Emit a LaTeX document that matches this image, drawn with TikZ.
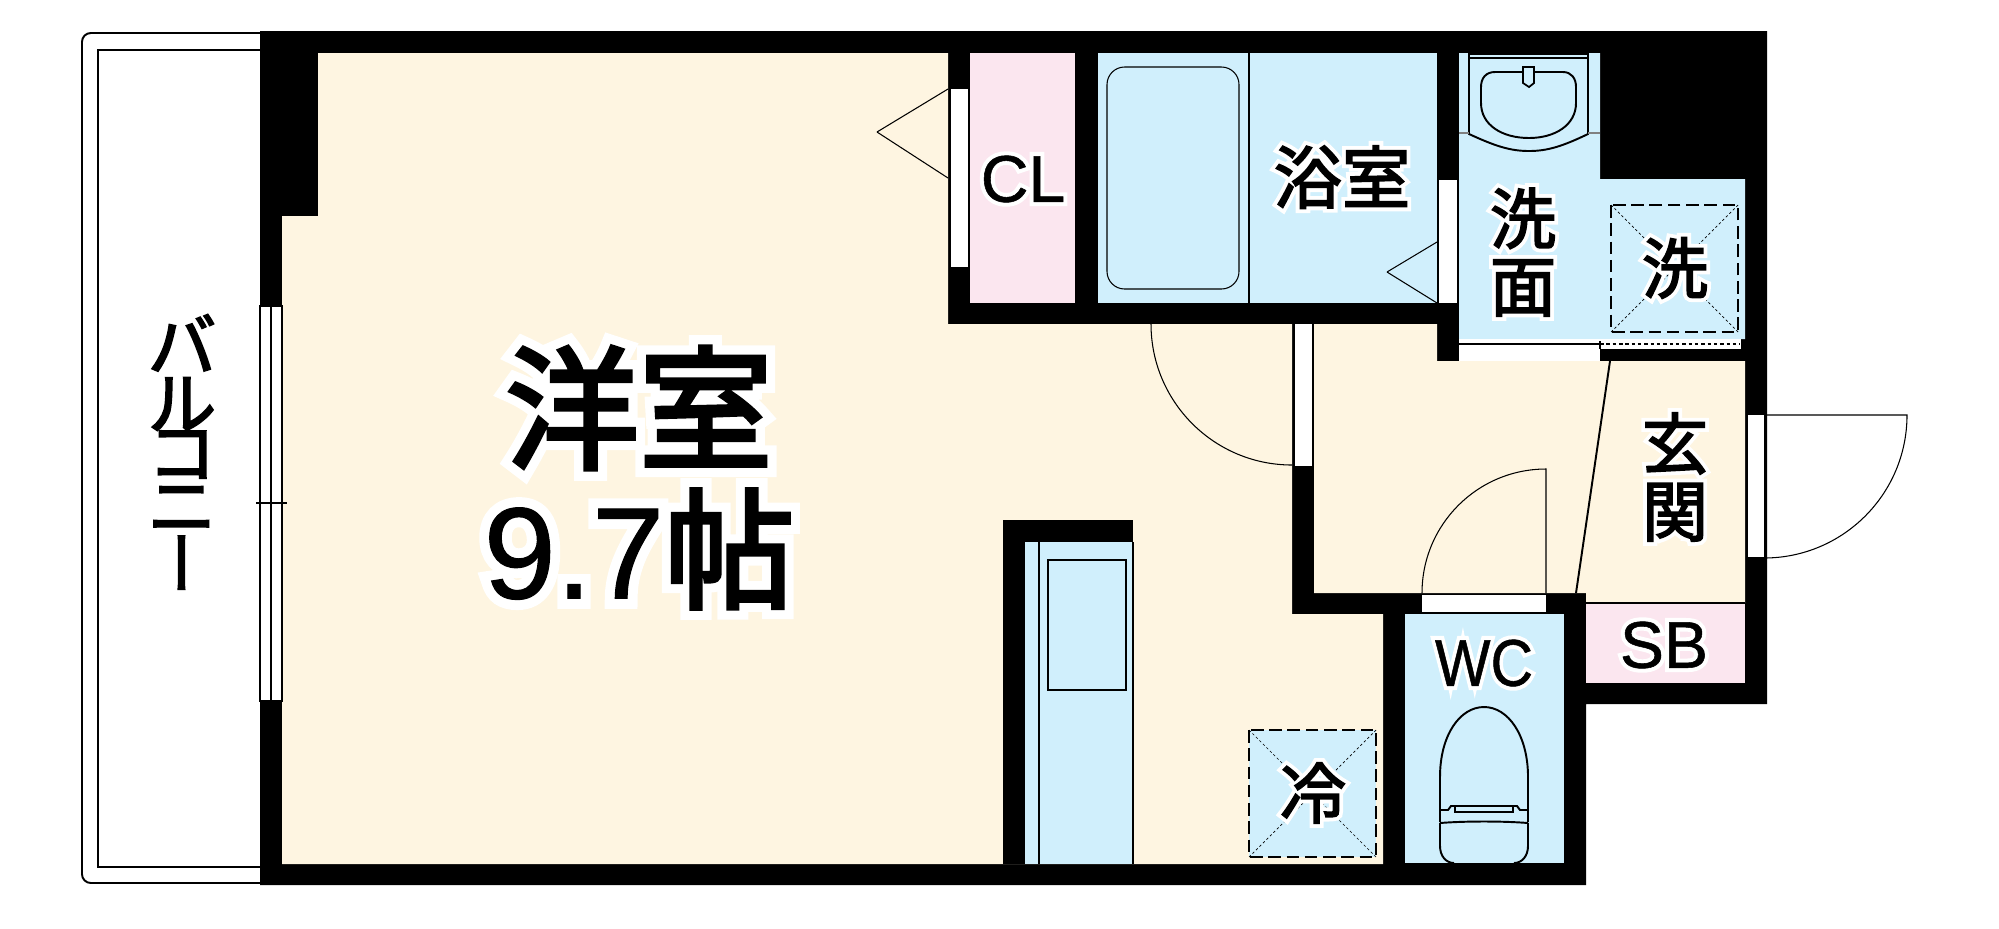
\documentclass[tikz,border=0pt]{standalone}
\usepackage{fontspec}
\usepackage{graphicx}
\setmainfont[FakeBold=0.8]{Liberation Sans}
\newfontfamily\jpfont[FakeBold=2.6]{Noto Sans CJK JP}
\newfontfamily\jpvert[RawFeature=+vert,FakeBold=2]{Noto Sans CJK JP}
\newfontfamily\jphalo[FakeBold=14]{Noto Sans CJK JP}
\newfontfamily\lathalo[FakeBold=13]{Liberation Sans}
\newfontfamily\jpbig[FakeBold=3.2]{Noto Sans CJK JP}
\newfontfamily\jpbighalo[FakeBold=17]{Noto Sans CJK JP}
\newfontfamily\latbighalo[FakeBold=16]{Liberation Sans}
\newcommand{\halo}[1]{\makebox[0pt]{\color{white}\let\jpfont\jphalo\lathalo #1}\makebox[0pt]{#1}}
\newcommand{\bighalo}[1]{\makebox[0pt]{\color{white}\let\jpfont\jpbighalo\latbighalo #1}\makebox[0pt]{\let\jpfont\jpbig #1}}
\newcommand{\tightlines}{\lineskiplimit=-30pt\relax}
\definecolor{floorcream}{HTML}{FEF5E1}
\definecolor{wetblue}{HTML}{D0EFFC}
\definecolor{closetpink}{HTML}{FBE6EF}
\tikzset{
  thinline/.style={line width=0.3pt,black},
  midline/.style={line width=0.55pt,black},
  fixture/.style={line width=0.5pt,black},
  pan/.style={line width=0.45pt,dash pattern=on 3.6pt off 1.6pt},
  panx/.style={line width=0.2pt,dash pattern=on 0.7pt off 0.7pt},
  opening/.style={fill=white},
  smalltext/.style={inner sep=0pt,font=\fontsize{18.8}{19.2}\selectfont,align=center},
  bigtext/.style={inner sep=0pt,font=\fontsize{38}{41}\selectfont},
}
\begin{document}
\begin{tikzpicture}[x=0.1mm,y=-0.1mm]
\useasboundingbox (0,0) rectangle (1999,928);
%balcony
\draw[midline,rounded corners=2.5pt] (260,33) -- (82,33) -- (82,883) -- (260,883);
\draw[thinline] (260,50) -- (98,50) -- (98,867) -- (260,867);

%walls
\fill[black] (260,31) -- (1767,31) -- (1767,704) -- (1586,704) -- (1586,885) -- (260,885) -- cycle;

%rooms
\fill[floorcream] (318,53) -- (948,53) -- (948,324) -- (1292,324) -- (1292,614) -- (1383,614) -- (1383,864) -- (282,864) -- (282,216) -- (318,216) -- cycle;
\fill[floorcream] (1314,324) -- (1437,324) -- (1437,361) -- (1745,361) -- (1745,603) -- (1586,603) -- (1586,593) -- (1314,593) -- cycle;
\fill[closetpink] (970,53) rectangle (1075,303);
\fill[closetpink] (1586,603) rectangle (1745,683);
\fill[wetblue] (1098,53) rectangle (1437,303);
\fill[wetblue] (1459,53) -- (1600,53) -- (1600,179) -- (1745,179) -- (1745,339) -- (1459,339) -- cycle;
\fill[wetblue] (1405,614) rectangle (1564,863);
\draw[midline] (1586,603) -- (1745,603);

%kitchen
\fill[black] (1003,520) rectangle (1133,542);
\fill[black] (1003,520) rectangle (1025,864);
\fill[wetblue] (1025,542) rectangle (1133,864);
\draw[midline] (1039,542) -- (1039,864);
\draw[midline] (1133,542) -- (1133,864);
\draw[midline] (1048,560) rectangle (1126,690);

%window
\draw[thinline,opening] (260,306) rectangle (282,701);
\draw[thinline] (271,306) -- (271,701);
\draw[thinline] (256,503) -- (287,503);

%openings
\fill[opening] (951,89) rectangle (968,267);
\fill[opening] (1439,180) rectangle (1457,303);
\fill[opening] (1295,324) rectangle (1312,466);
\fill[opening] (1422,595) rectangle (1546,612);
\fill[opening] (1748,415) rectangle (1764,557);
\fill[opening] (1459,339) rectangle (1600,361);
\fill[opening] (1600,339) rectangle (1741,349);
\draw[thinline] (1459,344) -- (1600,344);
\draw[thinline,dash pattern=on 1pt off 0.8pt] (1600,344) -- (1740,344);
\draw[thinline] (1600,341) -- (1600,349);

%doors
\draw[thinline] (877,132) -- (948,89);
\draw[thinline] (877,132) -- (948,178);
\draw[thinline] (1387,272) -- (1437,242);
\draw[thinline] (1387,272) -- (1437,303);
\draw[thinline] (1151,324) arc[start angle=180,end angle=90,radius=141];
\draw[thinline] (1422,593) arc[start angle=180,end angle=270,radius=124] -- (1546,593);
\draw[thinline] (1764,415) -- (1907,415) arc[start angle=0,end angle=90,radius=143];
\draw[midline] (1610,361) -- (1576,593);

%bath
\draw[thinline] (1249,53) -- (1249,303);
\draw[thinline,rounded corners=5pt] (1107,67) rectangle (1239,289);

%sink
\draw[midline] (1469,53) -- (1469,134) .. controls (1495,146) and (1510,151) .. (1529,151) .. controls (1548,151) and (1563,146) .. (1588,134) -- (1588,53);
\draw[thinline] (1469,54) -- (1588,54);
\draw[midline] (1469,58) -- (1588,58);
\draw[thinline,gray] (1459,133) -- (1469,133);
\draw[thinline,gray] (1588,133) -- (1600,133);
\draw[midline] (1495,72) -- (1563,72) .. controls (1571,72) and (1576,78) .. (1576,87) -- (1576,103) .. controls (1576,125) and (1555,138) .. (1529,138) .. controls (1502,138) and (1481,125) .. (1481,103) -- (1481,87) .. controls (1481,78) and (1486,72) .. (1495,72) -- cycle;
\draw[fixture,fill=wetblue] (1523,67) -- (1534,67) -- (1534,83) -- (1529,87) -- (1523,83) -- cycle;

%toilet
\draw[midline] (1440,822) -- (1440,777) .. controls (1440,735) and (1460,707) .. (1484,707) .. controls (1508,707) and (1528,735) .. (1528,777) -- (1528,822);
\draw[midline] (1440,823) .. controls (1465,821) and (1503,821) .. (1528,823);
\draw[midline] (1440,823) -- (1440,846) .. controls (1440,856) and (1446,863) .. (1454,863);
\draw[midline] (1528,823) -- (1528,846) .. controls (1528,856) and (1522,863) .. (1514,863);
\draw[midline] (1440,810) -- (1448,810) -- (1451,806) -- (1517,806) -- (1520,810) -- (1528,810);
\draw[midline] (1455,806) rectangle (1513,812);

%pans
\draw[panx] (1611,205) -- (1738,332);
\draw[panx] (1738,205) -- (1611,332);
\draw[pan] (1611,205) rectangle (1738,332);
\fill[wetblue] (1249,730) rectangle (1376,857);
\draw[panx] (1249,730) -- (1376,857);
\draw[panx] (1376,730) -- (1249,857);
\draw[pan] (1249,730) rectangle (1376,857);

%labels
\node[inner sep=0pt,font=\fontsize{19.5}{14.6}\selectfont\jpfont,align=center] (balcony) at (182,452) {\tightlines バ\\[0.8pt]ル\\[-0.7pt]コ\\[0.6pt]ニ\\[0.3pt]\jpvert ー};
\node[bigtext] (western) at (639,408) {\bighalo{\jpfont 洋室}};
\node[bigtext,font=\fontsize{37}{41}\selectfont] (westernsize) at (639,549) {\bighalo{9.7\jpfont 帖}};
\node[smalltext] (closet) at (1023,179) {\halo{CL}};
\node[smalltext,font=\fontsize{19.4}{19.2}\selectfont] (bathroom) at (1342,177) {\halo{\jpfont 浴室}};
\node[smalltext] (washroom) at (1523,252) {\halo{\jpfont 洗}\\\halo{\jpfont 面}};
\node[smalltext] (washer) at (1675,268) {\halo{\jpfont 洗}};
\node[smalltext] (entrance) at (1675,477) {\halo{\jpfont 玄}\\\halo{\jpfont 関}};
\node[smalltext] (shoebox) at (1664,645) {\halo{SB}};
\node[smalltext] (toiletlabel) at (1484,663) {\scalebox{0.89}[1]{\halo{WC}}};
\node[smalltext] (fridge) at (1313,793) {\halo{\jpfont 冷}};
\end{tikzpicture}
\end{document}
